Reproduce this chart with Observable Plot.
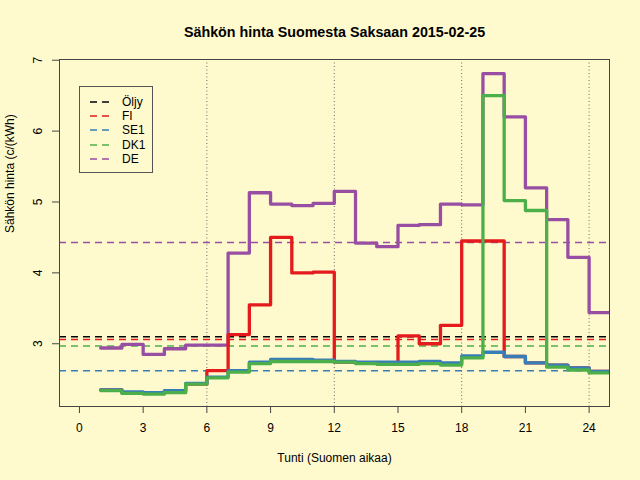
<!DOCTYPE html>
<html><head><meta charset="utf-8">
<script src="https://cdn.jsdelivr.net/npm/d3@7"></script>
<script src="https://cdn.jsdelivr.net/npm/@observablehq/plot@0.6"></script>
<style>
html,body{margin:0;padding:0;background:#fffacd;}
#wrap{position:relative;width:640px;height:480px;font-family:"Liberation Sans",Arial,sans-serif;}
#legend{position:absolute;left:79px;top:86px;width:74px;height:87px;border:1px solid #555;box-sizing:border-box;}
.row{position:absolute;left:0;height:14px;font-size:12px;line-height:14px;color:#000;}
.row svg{position:absolute;left:9px;top:0;}
.row span{position:absolute;left:42px;top:0;white-space:nowrap;}
</style>
</head><body>
<div id="wrap"></div>
<script>
// Hours (step starts); the last one closes the final step
const hours = [1,2,3,4,5,6,7,8,9,10,11,12,13,14,15,16,17,18,19,20,21,22,23,24,25];
const seriesNames = ["Öljy","FI","SE1","DK1","DE"];
const seriesColors = ["#000000","#E41A1C","#377EB8","#4DAF4A","#984EA3"];
// hourly prices c/kWh (hour 1..24)
const fiValues  = [2.35,2.31,2.30,2.33,2.43,2.62,3.13,3.55,4.50,4.00,4.01,2.74,2.73,2.72,3.11,3.00,3.26,4.45,4.45,2.82,2.73,2.70,2.66,2.61];
const se1Values = [2.35,2.32,2.31,2.34,2.44,2.53,2.62,2.74,2.78,2.78,2.77,2.75,2.74,2.74,2.74,2.75,2.73,2.83,2.88,2.82,2.73,2.70,2.66,2.61];
const dk1Values = [2.34,2.30,2.29,2.31,2.43,2.52,2.60,2.72,2.75,2.75,2.75,2.74,2.72,2.71,2.71,2.72,2.70,2.80,6.50,5.02,4.88,2.67,2.63,2.59];
const deValues  = [2.94,2.99,2.85,2.93,2.98,2.98,4.28,5.13,4.97,4.95,4.98,5.15,4.42,4.37,4.67,4.68,4.97,4.96,6.81,6.20,5.20,4.75,4.22,3.44];
// daily reference levels (dashed lines)
const levelValues = [3.10, 3.06, 2.62, 2.97, 4.43];
const xTicks = [0,3,6,9,12,15,18,21,24];
const yTicks = [3,4,5,6,7];
const gridHours = [6,12,18,24];

const seriesData = [["DE", deValues], ["FI", fiValues], ["SE1", se1Values], ["DK1", dk1Values]];
const rows = [];
for (const [name, vals] of seriesData) {
  hours.forEach((h, i) => rows.push({name, hour: h, value: vals[Math.min(i, vals.length - 1)]}));
}
const levels = seriesNames.map((name, i) => ({name, value: levelValues[i]}));

const chart = Plot.plot({
  width: 640, height: 480,
  marginLeft: 59, marginRight: 31, marginTop: 59, marginBottom: 74,
  style: {background: "transparent", fontFamily: "Liberation Sans, Arial, sans-serif", fontSize: "12px", color: "#000", overflow: "visible"},
  x: {domain: [-0.94, 24.96]},
  y: {domain: [2.115, 7.01]},
  color: {domain: seriesNames, range: seriesColors},
  marks: [
    Plot.ruleX(gridHours, {x: d => d, stroke: "#666", strokeDasharray: "1,2.5", strokeWidth: 1}),
    Plot.ruleY(levels, {y: "value", stroke: "name", strokeDasharray: "7,5", strokeWidth: 1.5}),
    Plot.line(rows, {x: "hour", y: "value", z: "name", stroke: "name", curve: "step-after", strokeWidth: 3.3, strokeLinejoin: "round", strokeLinecap: "round", clip: true}),
    Plot.frame({stroke: "#444", strokeWidth: 1}),
    Plot.axisX({ticks: xTicks, tickSize: 7, tickPadding: 10, fontSize: 12, label: null, stroke: "#444"}),
    Plot.axisY({ticks: yTicks, tickSize: 7, tickFormat: () => "", label: null, stroke: "#444"}),
    Plot.text(yTicks, {y: d => d, text: d => String(d), frameAnchor: "left", dx: -21, rotate: -90, fontSize: 12, textAnchor: "middle", lineAnchor: "middle"}),
    Plot.text(["Tunti (Suomen aikaa)"], {frameAnchor: "bottom", dy: 52, fontSize: 12, lineAnchor: "middle"}),
    Plot.text(["Sähkön hinta (c/(kWh)"], {frameAnchor: "left", dx: -49, rotate: -90, fontSize: 12, lineAnchor: "middle"}),
    Plot.text(["Sähkön hinta Suomesta Saksaan 2015-02-25"], {frameAnchor: "top", dy: -27, fontSize: 14.3, fontWeight: "bold", lineAnchor: "middle"})
  ]
});
const wrap = document.getElementById("wrap");
wrap.appendChild(chart);

const legend = document.createElement("div");
legend.id = "legend";
seriesNames.forEach((name, i) => {
  const r = document.createElement("div");
  r.className = "row";
  r.style.top = (7.5 + i * 14.4) + "px";
  r.innerHTML = `<svg width="22" height="14"><line x1="1" x2="21" y1="7" y2="7" stroke="${seriesColors[i]}" stroke-width="1.6" stroke-dasharray="7,5"/></svg><span>${name}</span>`;
  legend.appendChild(r);
});
wrap.appendChild(legend);
</script>
</body></html>
